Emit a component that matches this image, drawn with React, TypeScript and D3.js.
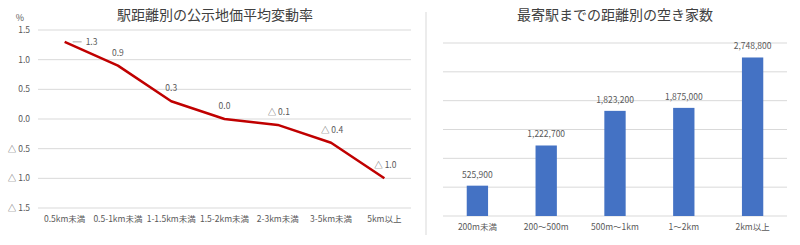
import React from "react";
import * as d3 from "d3";

const lineCategories = ["0.5km未満", "0.5-1km未満", "1-1.5km未満", "1.5-2km未満", "2-3km未満", "3-5km未満", "5km以上"];
const lineValues = [1.3, 0.9, 0.3, 0.0, -0.1, -0.4, -1.0];
const lineTicks = [1.5, 1.0, 0.5, 0.0, -0.5, -1.0, -1.5];

const barCategories = ["200m未満", "200～500m", "500m～1km", "1～2km", "2km以上"];
const barValues = [525900, 1222700, 1823200, 1875000, 2748800];
const barTicks = [0, 500000, 1000000, 1500000, 2000000, 2500000, 3000000];

const FONT = "'Noto Sans CJK JP', 'Noto Sans', sans-serif";
const TXT = "#595959";
const GRID = "#d9d9d9";

const fmtSigned = (v: number) => (v < 0 ? "△ " + Math.abs(v).toFixed(1) : v.toFixed(1));
const fmtComma = d3.format(",");

export default function App() {
  const x1 = d3.scaleBand<string>().domain(lineCategories).range([38, 411]);
  const y1 = d3.scaleLinear().domain([-1.5, 1.5]).range([208, 30]);
  const lineGen = d3
    .line<number>()
    .x((_, i) => (x1(lineCategories[i]) ?? 0) + x1.bandwidth() / 2)
    .y((d) => y1(d));

  const x2 = d3.scaleBand<string>().domain(barCategories).range([443, 787]);
  const y2 = d3.scaleLinear().domain([0, 3000000]).range([216, 43]);
  const barW = x2.bandwidth() * 0.31;

  return (
    <svg width={800} height={245} style={{ position: "absolute", left: 0, top: 0, background: "#fff" }} fontFamily={FONT}>
      {/* left chart */}
      <text x={215} y={20} textAnchor="middle" fontSize={14} fill="#404040">駅距離別の公示地価平均変動率</text>
      <text x={20} y={21} textAnchor="middle" fontSize={9} fill={TXT}>%</text>
      {lineTicks.map((t) => (
        <g key={t}>
          <line x1={38} x2={411} y1={y1(t)} y2={y1(t)} stroke={GRID} strokeWidth={1} />
          <text x={30} y={y1(t)} dy="0.35em" textAnchor="end" fontSize={8.5} fill={TXT}>{fmtSigned(t)}</text>
        </g>
      ))}
      {lineCategories.map((c) => (
        <text key={c} x={(x1(c) ?? 0) + x1.bandwidth() / 2} y={219} dy="0.35em" textAnchor="middle" fontSize={8.5} fill={TXT}>{c}</text>
      ))}
      <path d={lineGen(lineValues) ?? ""} fill="none" stroke="#C00000" strokeWidth={2.5} strokeLinejoin="round" />
      {lineValues.map((v, i) => {
        const cx = (x1(lineCategories[i]) ?? 0) + x1.bandwidth() / 2;
        const cy = y1(v);
        if (i === 0) {
          return (
            <g key={i}>
              <line x1={cx + 8} x2={cx + 17} y1={cy} y2={cy} stroke="#a6a6a6" strokeWidth={1} />
              <text x={cx + 21} y={cy} dy="0.35em" fontSize={8.5} fill={TXT}>{fmtSigned(v)}</text>
            </g>
          );
        }
        return (
          <text key={i} x={cx + (v < 0 ? 1 : 0)} y={cy - 13} dy="0.35em" textAnchor="middle" fontSize={8.5} fill={TXT}>{fmtSigned(v)}</text>
        );
      })}

      {/* divider */}
      <line x1={426} x2={426} y1={12} y2={235} stroke={GRID} strokeWidth={1} />

      {/* right chart */}
      <text x={615} y={20} textAnchor="middle" fontSize={14} fill="#404040">最寄駅までの距離別の空き家数</text>
      {barTicks.map((t) => (
        <line key={t} x1={443} x2={787} y1={y2(t)} y2={y2(t)} stroke={GRID} strokeWidth={1} />
      ))}
      {barValues.map((v, i) => {
        const c = barCategories[i];
        const cx = (x2(c) ?? 0) + x2.bandwidth() / 2;
        return (
          <g key={c}>
            <rect x={cx - barW / 2} y={y2(v)} width={barW} height={y2(0) - y2(v)} fill="#4472C4" />
            <text x={cx} y={y2(v) - 11} dy="0.35em" textAnchor="middle" fontSize={8.5} fill={TXT}>{fmtComma(v)}</text>
            <text x={cx} y={227} dy="0.35em" textAnchor="middle" fontSize={8.5} fill={TXT}>{c}</text>
          </g>
        );
      })}
    </svg>
  );
}
